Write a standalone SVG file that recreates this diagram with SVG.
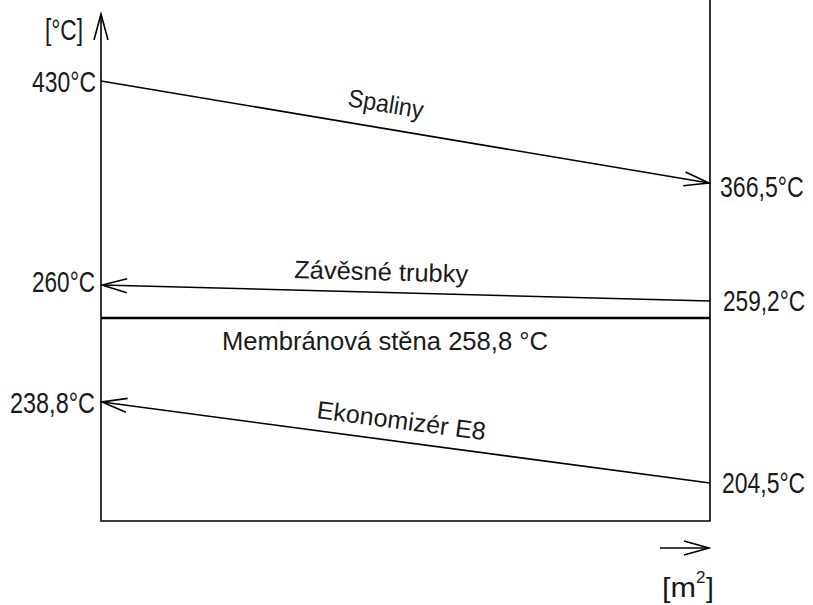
<svg xmlns="http://www.w3.org/2000/svg" width="813" height="605" viewBox="0 0 813 605">
<style>
.ln{stroke:#000;stroke-width:1.6;fill:none}
.t{font-family:"Liberation Sans",Arial,sans-serif;fill:#1a1a1a}
</style>
<defs>
<marker id="ah" markerUnits="userSpaceOnUse" viewBox="-27 -9 29 18" refX="0" refY="0" markerWidth="29" markerHeight="18" orient="auto">
<path d="M -25 -7 L 0 0 L -25 7" fill="none" stroke="#000" stroke-width="1.6"/>
</marker>
</defs>
<rect width="813" height="605" fill="#fff"/>
<g id="frame">
<path class="ln" d="M101 14 L101 521 L710 521 L710 0"/>
<path class="ln" d="M94 40 L101 14 L108 40"/>
<line x1="101" y1="318" x2="710" y2="318" stroke="#000" stroke-width="2.4"/>
</g>
<g id="connectors">
<line class="ln" x1="101" y1="81" x2="709" y2="183" marker-end="url(#ah)"/>
<line class="ln" x1="710" y1="301" x2="102" y2="285" marker-end="url(#ah)"/>
<line class="ln" x1="710" y1="483" x2="102" y2="402" marker-end="url(#ah)"/>
<line class="ln" x1="660" y1="548" x2="709" y2="548" marker-end="url(#ah)"/>
</g>
<g id="axis-y-label"><text class="t" x="45" y="40" font-size="30" textLength="38" lengthAdjust="spacingAndGlyphs">[°C]</text></g>
<g id="axis-x-label"><text class="t" x="662" y="597" font-size="28" textLength="34" lengthAdjust="spacingAndGlyphs">[m</text><text class="t" x="696" y="583" font-size="17">2</text><text class="t" x="706" y="597" font-size="28">]</text></g>
<g id="t430"><text class="t" x="32" y="92" font-size="30" textLength="64" lengthAdjust="spacingAndGlyphs">430°C</text></g>
<g id="t3665"><text class="t" font-size="30" transform="translate(720,197) scale(0.77,1)">366,5°C</text></g>
<g id="t260"><text class="t" x="32" y="292" font-size="30" textLength="63" lengthAdjust="spacingAndGlyphs">260°C</text></g>
<g id="t2592"><text class="t" font-size="30" transform="translate(723,311) scale(0.755,1)">259,2°C</text></g>
<g id="t2388"><text class="t" x="10" y="413" font-size="30" textLength="85" lengthAdjust="spacingAndGlyphs">238,8°C</text></g>
<g id="t2045"><text class="t" font-size="30" transform="translate(722,493) scale(0.765,1)">204,5°C</text></g>
<g id="spaliny"><text class="t" font-size="25" transform="translate(347,106) rotate(9.5)" textLength="76" lengthAdjust="spacingAndGlyphs">Spaliny</text></g>
<g id="zavesne"><text class="t" font-size="25" transform="translate(294,278) rotate(1.5)" textLength="174" lengthAdjust="spacingAndGlyphs">Závěsné trubky</text></g>
<g id="membranova"><text class="t" x="222" y="350" font-size="25" textLength="326" lengthAdjust="spacingAndGlyphs">Membránová stěna 258,8 °C</text></g>
<g id="ekonomizer"><text class="t" font-size="25" transform="translate(316,418) rotate(7.5)" textLength="170" lengthAdjust="spacingAndGlyphs">Ekonomizér E8</text></g>
</svg>
